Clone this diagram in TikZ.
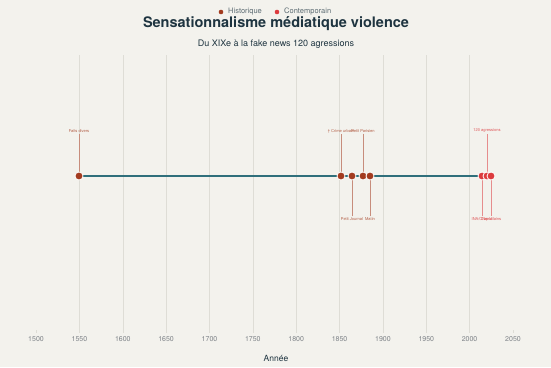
\documentclass[tikz,border=0pt]{standalone}
\usepackage{fontspec}
\setmainfont{TeX Gyre Heros}
\definecolor{bgc}{HTML}{F3F2ED}
\definecolor{hist}{HTML}{A33B1F}
\definecolor{cont}{HTML}{DC3B3E}
\definecolor{teal}{HTML}{2F6F7B}
\definecolor{ttl}{HTML}{1E3440}
\definecolor{gridc}{HTML}{DEDDD6}
\definecolor{tickc}{HTML}{7D8287}
\tikzset{
  dot/.style={circle, inner sep=0pt, minimum size=8pt, draw=white, line width=0.8pt},
  hdot/.style={dot, fill=hist},
  cdot/.style={dot, fill=cont},
  hstem/.style={draw=hist!55!bgc, line width=0.9pt},
  cstem/.style={draw=cont!55!bgc, line width=0.9pt},
  hlab/.style={font=\fontsize{4}{4}\selectfont, text=hist!80!bgc, inner sep=1pt},
  clab/.style={font=\fontsize{4}{4}\selectfont, text=cont!85!bgc, inner sep=1pt},
  tick/.style={font=\fontsize{7}{7}\selectfont, text=tickc},
  gline/.style={draw=gridc, line width=0.6pt}
}
\begin{document}
\begin{tikzpicture}[x=1pt,y=-1pt]
\fill[bgc] (0,0) rectangle (551,367);
\useasboundingbox (0,0) rectangle (551,367);
% grid
\foreach \yr/\x in {1550/79.4,1600/122.8,1650/166.1,1700/209.5,1750/252.8,1800/296.2,1850/339.6,1900/382.9,1950/426.3,2000/469.6}{
  \draw[gline] (\x,55) -- (\x,333);
}
\foreach \yr/\x in {1500/36,1550/79.4,1600/122.8,1650/166.1,1700/209.5,1750/252.8,1800/296.2,1850/339.6,1900/382.9,1950/426.3,2000/469.6,2050/513}{
  \node[tick] (t\yr) at (\x,339) {\yr};
}
\draw[gline] (36,330) -- (36,333);
\draw[gline] (513,330) -- (513,333);
\node[font=\fontsize{8.5}{8.5}\selectfont, text=ttl] (xlab) at (276,358) {Année};
% legend
\node[circle, fill=hist, inner sep=0pt, minimum size=4.6pt] (lh) at (221,12) {};
\node[anchor=west, font=\fontsize{7.5}{7.5}\selectfont, text=ttl!70!bgc, inner sep=1pt] (lht) at (227,12) {Historique};
\node[circle, fill=cont, inner sep=0pt, minimum size=4.6pt] (lc) at (277,12) {};
\node[anchor=west, font=\fontsize{7.5}{7.5}\selectfont, text=ttl!70!bgc, inner sep=1pt] (lct) at (283,12) {Contemporain};
% titles
\node[font=\fontsize{14.5}{14.5}\selectfont\bfseries, text=ttl] (title) at (276,24) {Sensationnalisme médiatique violence};
\node[font=\fontsize{9}{9}\selectfont, text=ttl] (sub) at (276,44) {Du XIXe à la fake news 120 agressions};
% coordinates of events
\coordinate (pa) at (79,176);
\coordinate (pb) at (341,176);
\coordinate (pc) at (352,176);
\coordinate (pd) at (363,176);
\coordinate (pe) at (370,176);
\coordinate (pf) at (482,176);
\coordinate (pg) at (487,176);
\coordinate (ph) at (491,176);
% labels
\node[hlab] (la) at (79,131) {Faits divers};
\node[hlab] (lb) at (341,131) {† Crime urbain};
\node[hlab] (lc2) at (352,219) {Petit Journal};
\node[hlab] (ld) at (363,131) {Petit Parisien};
\node[hlab] (le) at (370,219) {Matin};
\node[clab] (lf) at (482,219) {INA/CNews};
\node[clab] (lg) at (487,131) {120 agressions};
\node[clab] (lh2) at (491,219) {Cap Vilains};
% stems
\draw[hstem] (la.south) -- (pa);
\draw[hstem] (lb.south) -- (pb);
\draw[hstem] (lc2.north) -- (pc);
\draw[hstem] (ld.south) -- (pd);
\draw[hstem] (le.north) -- (pe);
\draw[cstem] (lf.north) -- (pf);
\draw[cstem] (lg.south) -- (pg);
\draw[cstem] (lh2.north) -- (ph);
% timeline
\draw[teal, line width=2.3pt] (pa) -- (ph);
% dots
\node[hdot] (da) at (pa) {};
\node[hdot] (db) at (pb) {};
\node[hdot] (dc) at (pc) {};
\node[hdot] (dd) at (pd) {};
\node[hdot] (de) at (pe) {};
\node[cdot] (df) at (pf) {};
\node[cdot] (dg) at (pg) {};
\node[cdot] (dh) at (ph) {};
\end{tikzpicture}
\end{document}
